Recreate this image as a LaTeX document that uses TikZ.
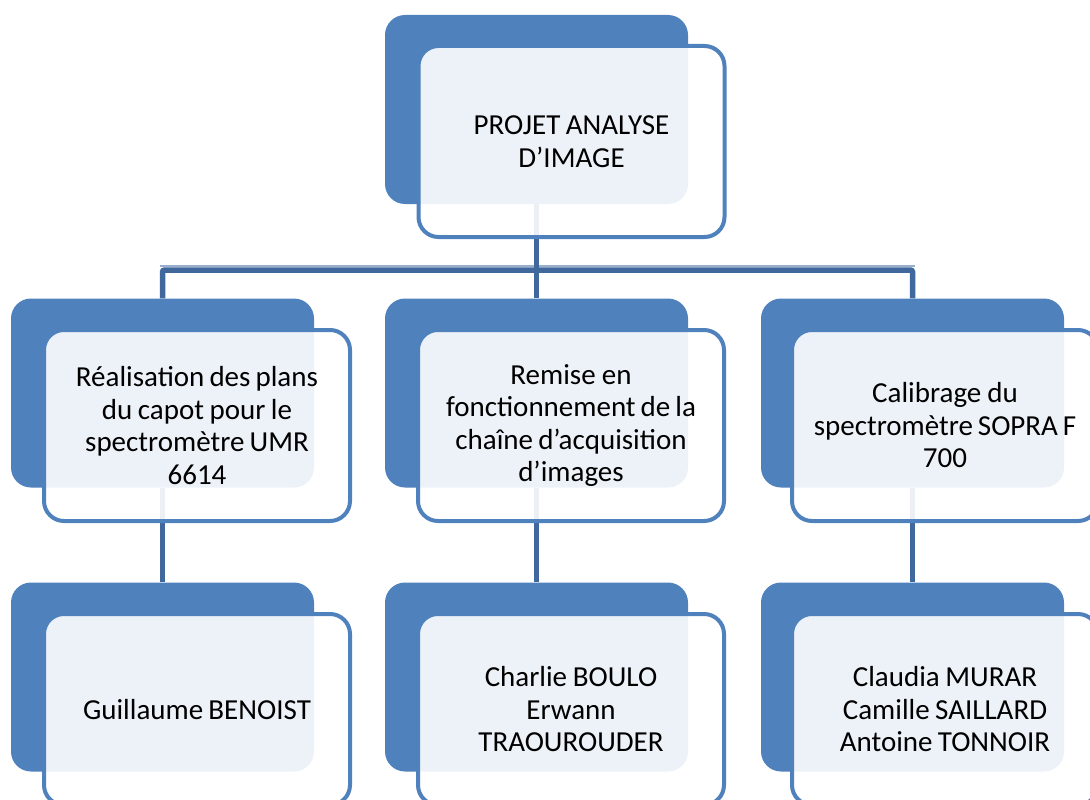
\documentclass[tikz,border=0pt]{standalone}
\usepackage{fontspec}
\setmainfont{Carlito}
\usetikzlibrary{backgrounds}
\definecolor{boxblue}{RGB}{79,129,189}
\definecolor{linkblue}{RGB}{64,104,156}
\definecolor{linkshade}{RGB}{152,175,206}
\newcommand\tightspaces{\spaceskip=4.6pt plus 1pt minus 1pt\relax}
\begin{document}
\begin{tikzpicture}[x=1pt,y=-1pt,
  back/.style={rectangle, rounded corners=20pt, fill=boxblue, inner sep=0pt,
    minimum width=303pt, minimum height=189pt},
  front/.style={rectangle, rounded corners=20pt, draw=boxblue, line width=4pt,
    fill=white, fill opacity=0.9, text opacity=1, inner sep=3pt,
    minimum width=306pt, minimum height=191pt, text width=300pt, align=center,
    font=\fontsize{29}{32.5}\selectfont, execute at begin node=\tightspaces},
  link/.style={draw=linkblue, line width=5.5pt, rounded corners=2pt},
  linklight/.style={draw=linkshade, line width=2pt}]
\useasboundingbox (0,0) rectangle (1090,800);
\clip (0,0) rectangle (1090,800);

% top level
\node[back]  (pb) at (536.5,109.5) {};
\node[front] (p)  at (571.5,141.5) {PROJET ANALYSE\\D’IMAGE};

% tasks
\node[back]  (ab) at (162.5,393) {};
\node[front] (a)  at (197,425.5) {Réalisation des plans\\du capot pour le\\spectromètre UMR\\6614};
\node[back]  (bb) at (536.5,393) {};
\node[front] (b)  at (571,425.5) {Remise en\\fonctionnement de la\\chaîne d’acquisition\\d’images};
\node[back]  (cb) at (912.5,393) {};
\node[front] (c)  at (945,425.5) {Calibrage du\\spectromètre SOPRA F\\700};

% team members
\node[back]  (db) at (162.5,677) {};
\node[front] (d)  at (197,709.5) {Guillaume BENOIST};
\node[back]  (eb) at (536.5,677) {};
\node[front] (e)  at (571,709.5) {Charlie BOULO\\Erwann\\TRAOUROUDER};
\node[back]  (fb) at (912.5,677) {};
\node[front] (f)  at (945,709.5) {Claudia MURAR\\Camille SAILLARD\\Antoine TONNOIR};

% connectors, behind the boxes
\begin{scope}[on background layer]
  \fill[white] (0,0) rectangle (1090,800);
  \coordinate (bus) at (0,270);
  \coordinate (busl) at (0,266);
  \draw[linklight] ([xshift=-2.75pt]ab.north |- busl) -- ([xshift=2.75pt]cb.north |- busl);
  \draw[link] (pb.south) -- (bb.north);
  \draw[link] (ab.north) |- (cb.north |- bus) -- (cb.north);
  \draw[link] (ab.south) -- (db.north);
  \draw[link] (bb.south) -- (eb.north);
  \draw[link] (cb.south) -- (fb.north);
\end{scope}
\end{tikzpicture}
\end{document}
